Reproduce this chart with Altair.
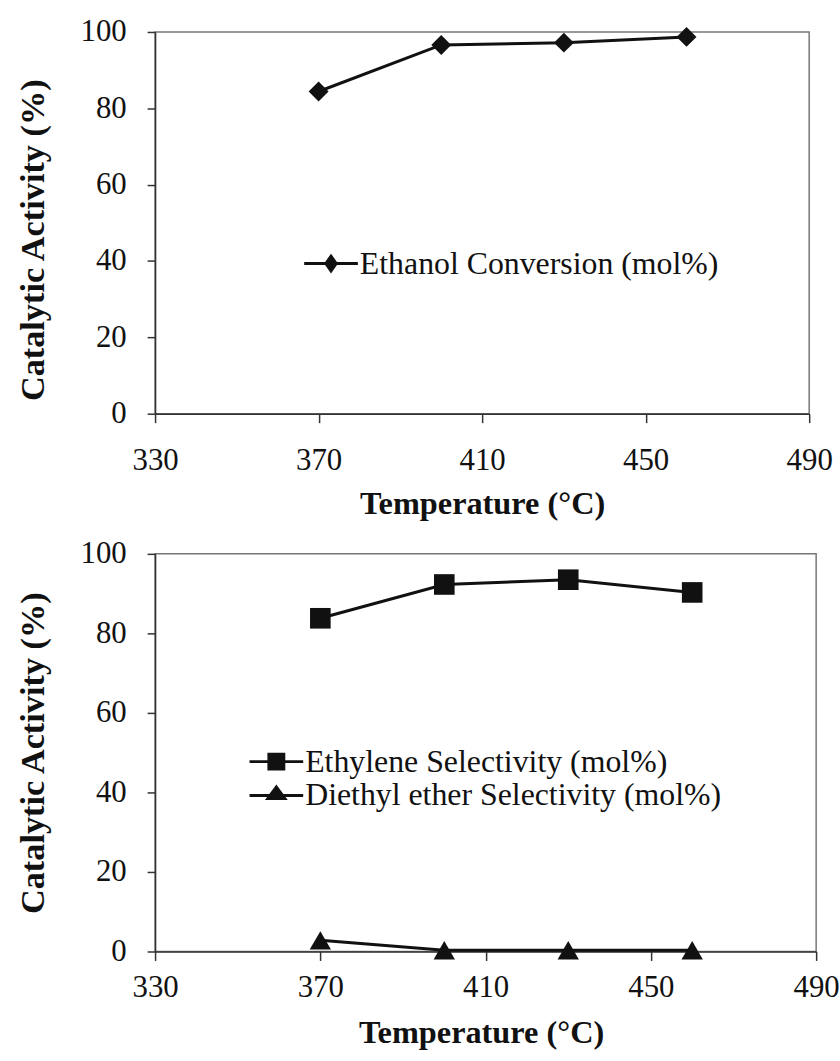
import altair as alt
import pandas as pd

# ---- data ----
temperature = [370, 400, 430, 460]
ethanol_conversion = [84.4, 96.6, 97.2, 98.7]
ethylene_selectivity = [83.8, 92.3, 93.5, 90.3]
diethyl_ether_selectivity = [2.8, 0.3, 0.3, 0.3]

x_ticks = [330, 370, 410, 450, 490]
y_ticks = [0, 20, 40, 60, 80, 100]

name_eth = "Ethanol Conversion (mol%)"
name_ethylene = "Ethylene Selectivity (mol%)"
name_dee = "Diethyl ether Selectivity (mol%)"

x_title = "Temperature (°C)"
y_title = "Catalytic Activity (%)"

FONT = "Liberation Serif, Times New Roman, serif"
INK = "#111111"

# legend symbols: line segment + marker (custom paths, units of sqrt(size)/2)
LINE = "M-2.7,-0.15H2.7V0.15H-2.7Z"
leg_diamond = LINE + "M-0.7,0L0,-1L0.7,0L0,1Z"
leg_square = LINE + "M-0.9,-0.9H0.9V0.9H-0.9Z"
leg_triangle = LINE + "M0,-1.1L1.15,0.45H-1.15Z"

top_df = pd.DataFrame({"T": temperature, "v": ethanol_conversion, "s": name_eth})
bot_df = pd.DataFrame({
    "T": temperature * 2,
    "v": ethylene_selectivity + diethyl_ether_selectivity,
    "s": [name_ethylene] * len(temperature) + [name_dee] * len(temperature),
})


def legend(x, y):
    return alt.Legend(
        title=None, orient="none", legendX=x, legendY=y, padding=0,
        labelFont=FONT, labelFontSize=32, labelColor=INK, labelLimit=800,
        labelOffset=13, symbolSize=400, symbolStrokeWidth=0,
        symbolFillColor=INK, symbolOpacity=1, rowPadding=2,
    )


def x_enc(label_pad, title_y, title_x=None):
    kw = dict(values=x_ticks, title=x_title, labelPadding=label_pad, tickSize=9,
              labelFlush=False, titleY=title_y, titleFontSize=32.5)
    if title_x is not None:
        kw["titleX"] = title_x
    return alt.X("T:Q", scale=alt.Scale(domain=[330, 490], nice=False, zero=False),
                 axis=alt.Axis(**kw))


def y_enc(title_y):
    return alt.Y("v:Q", scale=alt.Scale(domain=[0, 100], nice=False),
                 axis=alt.Axis(values=y_ticks, title=y_title, tickSize=8, labelPadding=21,
                               titleX=-105, titleY=title_y, titleFontSize=34.5))


# ---- top panel ----
xt = x_enc(23, 74)
yt = y_enc(209)
tb = alt.Chart(top_df)
top = alt.layer(
    tb.mark_line(color=INK, strokeWidth=3).encode(x=xt, y=yt),
    tb.mark_point(shape="diamond", filled=True, size=400, color=INK, opacity=1).encode(x=xt, y=yt),
    tb.transform_filter("false").mark_point(filled=True, color=INK, opacity=1).encode(
        x=xt, y=yt,
        shape=alt.Shape("s:N", scale=alt.Scale(domain=[name_eth], range=[leg_diamond]),
                        legend=legend(161, 217)),
    ),
).properties(width=658, height=384)

# ---- bottom panel ----
xb = x_enc(12, 66, 328)
yb = y_enc(200)
bb = alt.Chart(bot_df)
bottom = alt.layer(
    bb.mark_line(color=INK, strokeWidth=3).encode(x=xb, y=yb, detail="s:N"),
    bb.transform_filter(alt.datum.s == name_ethylene).mark_point(
        shape="square", filled=True, size=430, color=INK, opacity=1).encode(x=xb, y=yb),
    bb.transform_filter(alt.datum.s == name_dee).mark_point(
        shape="triangle-up", filled=True, size=460, color=INK, opacity=1).encode(x=xb, y=yb),
    bb.transform_filter("false").mark_point(filled=True, color=INK, opacity=1).encode(
        x=xb, y=yb,
        shape=alt.Shape("s:N", scale=alt.Scale(domain=[name_ethylene, name_dee],
                                               range=[leg_square, leg_triangle]),
                        legend=legend(106, 193)),
    ),
).properties(width=665, height=400)

chart = alt.vconcat(top, bottom, spacing=141, bounds="flush").resolve_scale(
    shape="independent"
).resolve_legend(
    shape="independent"
).properties(
    padding={"left": 15, "top": 12, "right": 0, "bottom": 6}
).configure_view(
    stroke="#777777", strokeWidth=1.5
).configure_axis(
    grid=False, labelFont=FONT, labelFontSize=31, labelColor=INK,
    titleFont=FONT, titleFontWeight="bold", titleColor=INK,
    domainColor="#333333", domainWidth=1.5, tickColor="#333333", tickWidth=1.5,
)

chart.save("out.html", embed_options={"renderer": "svg", "actions": False})
